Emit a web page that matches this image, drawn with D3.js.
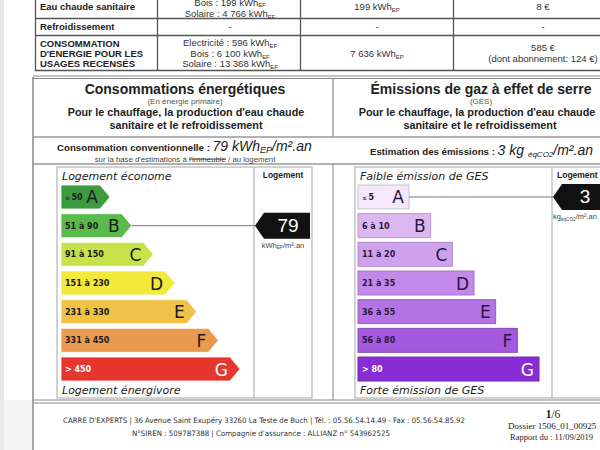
<!DOCTYPE html>
<html><head><meta charset="utf-8">
<script src="https://cdn.jsdelivr.net/npm/d3@7"></script>
<style>body{margin:0;background:#fff}svg{display:block}</style>
</head><body>
<script>
// ---------- DATA ----------
const classes = ["A","B","C","D","E","F","G"];
const energyRanges = ["≤|50","51 à 90","91 à 150","151 à 230","231 à 330","331 à 450","> 450"];
const energyBounds = [51,91,151,231,331,451];
const energyColors = ["#3e9a3e","#5bba4b","#c8e24b","#f2e93a","#f0c247","#ea9a4e","#e5372d"];
const gesRanges = ["≤|5","6 à 10","11 à 20","21 à 35","36 à 55","56 à 80","> 80"];
const gesBounds = [6,11,21,36,56,81];
const gesColors = ["#f4e8fb","#ddb7f0","#d0a2ee","#c389e9","#b473e4","#a358dd","#8a2cd3"];
const energyValue = 79;
const gesValue = 3;

const tableLabels = [["Eau chaude sanitaire"],["Refroidissement"],["CONSOMMATION","D'ENERGIE POUR LES","USAGES RECENSÉS"]];
const tableFinal = [
  [["Bois : 199 kWh","EF"],["Solaire : 4 766 kWh","EF"]],
  [["-"]],
  [["Electricité : 596 kWh","EF"],["Bois : 6 100 kWh","EF"],["Solaire : 13 368 kWh","EF"]]
];
const tablePrimary = [[["199 kWh","EP"]],[["-"]],[["7 636 kWh","EP"]]];
const tableCost = [[["8 €"]],[["-"]],[["585 €"],["(dont abonnement: 124 €)"]]];

const footerLines = ["CARRE D'EXPERTS | 36 Avenue Saint Exupéry 33260 La Teste de Buch | Tél. : 05.56.54.14.49 - Fax : 05.56.54.85.92",
                     "N°SIREN : 509787388 | Compagnie d'assurance : ALLIANZ n° 543962525"];

// ---------- DRAW ----------
const W = 600, H = 450;
const svg = d3.select("body").append("svg").attr("width", W).attr("height", H);
svg.append("rect").attr("width", W).attr("height", H).attr("fill", "#fff");

const SANS = "Liberation Sans, Arial, sans-serif";
const VERD = "DejaVu Sans, Verdana, sans-serif";

function line(x1,y1,x2,y2,c,w){ svg.append("line").attr("x1",x1).attr("y1",y1).attr("x2",x2).attr("y2",y2).attr("stroke",c).attr("stroke-width",w); }

function richText(parent, x, y, parts, o){
  const t = parent.append("text").attr("x",x).attr("y",y)
    .attr("font-family", o.family || SANS).attr("font-size", o.size)
    .attr("font-weight", o.weight || "normal").attr("font-style", o.style || "normal")
    .attr("fill", o.fill || "#222").attr("text-anchor", o.anchor || "start");
  parts.forEach((p,i)=>{
    if(i===0){ t.append("tspan").text(p); }
    else { t.append("tspan").attr("font-size", o.size*0.62).attr("dy", o.subDy!=null ? o.subDy : o.size*0.22).text(p); }
  });
  return t;
}

// page left margin
svg.append("rect").attr("x",0).attr("y",0).attr("width",4).attr("height",H).attr("fill","#e9e9e9");
svg.append("rect").attr("x",4).attr("y",400).attr("width",28).attr("height",50).attr("fill","#f3f3f3");

// ---- top table ----
const rowCenters = [[6],[26],[43,53,63]];
const colX = [35, 157, 300, 453];
[18.5, 35.5, 70.5].forEach(y=>line(35,y,W,y,"#555",1.3));
colX.forEach(x=>line(x+0.5,0,x+0.5,70.5,"#555",1.3));
const rowMid = [6, 26.5, 53];
tableLabels.forEach((ls,r)=>{
  ls.forEach((l,i)=>{
    svg.append("text").attr("x",40).attr("y",(ls.length>1?rowCenters[2][i]:rowMid[r])+3.5)
      .attr("font-family",SANS).attr("font-size",9.5).attr("font-weight","bold").attr("fill","#222").text(l);
  });
});
function cellLines(data, cx, r, gap){
  const n = data.length;
  data.forEach((p,i)=>{
    const first = (r===0 && n===2);
    const cy = first ? [2,13.5][i] : rowMid[r] + (i-(n-1)/2)*gap;
    richText(svg, cx, cy+3.5, p, {size:9.5, anchor:"middle", fill:"#333", subDy: first && i===0 ? 1 : null});
  });
}
tableFinal.forEach((d,r)=>cellLines(d, 230, r, 10.7));
tablePrimary.forEach((d,r)=>cellLines(d, 377, r, 11));
tableCost.forEach((d,r)=>cellLines(d, 543, r, 11));

// ---- frames ----
line(33,76,W,76,"#888",1); line(33,78.5,W,78.5,"#888",1);
line(33,77,33,H,"#777",1.3);
line(333,78,333,137,"#888",1.2);
line(33,137,W,137,"#999",1.3);
line(33,164,W,164,"#999",1.3);
line(333,164,333,400,"#999",1.2);
line(33,400,W,400,"#888",1); line(33,403,W,403,"#888",1);

// ---- headers ----
function ctext(x,y,txt,size,weight,fill,fam){
  return svg.append("text").attr("x",x).attr("y",y).attr("text-anchor","middle")
    .attr("font-family",fam||SANS).attr("font-size",size).attr("font-weight",weight||"normal").attr("fill",fill||"#222").text(txt);
}
ctext(185,94,"Consommations énergétiques",14,"bold","#222");
ctext(185,104,"(En énergie primaire)",8,"normal","#555");
ctext(186,115.5,"Pour le chauffage, la production d'eau chaude",10.8,"bold","#222");
ctext(186,129,"sanitaire et le refroidissement",10.8,"bold","#222");
ctext(481,94,"Émissions de gaz à effet de serre",14,"bold","#222");
ctext(481,104,"(GES)",8,"normal","#555");
ctext(477,115.5,"Pour le chauffage, la production d'eau chaude",10.8,"bold","#222");
ctext(480,129,"sanitaire et le refroidissement",10.8,"bold","#222");

// conventional consumption line
{
  const t = svg.append("text").attr("x",57).attr("y",151).attr("font-family",SANS).attr("fill","#222");
  t.append("tspan").attr("font-size",9.7).attr("font-weight","bold").text("Consommation conventionnelle : ");
  t.append("tspan").attr("font-size",14).attr("font-style","italic").text(energyValue+" kWh");
  t.append("tspan").attr("font-size",9).attr("font-style","italic").attr("dy",1.5).text("EP");
  t.append("tspan").attr("font-size",14).attr("font-style","italic").attr("dy",-1.5).text("/m².an");
  const s = svg.append("text").attr("x",185).attr("y",161.5).attr("text-anchor","middle").attr("font-family",SANS).attr("font-size",7.8).attr("fill","#444");
  s.append("tspan").text("sur la base d'estimations à ");
  s.append("tspan").style("text-decoration","line-through").text("l'immeuble");
  s.append("tspan").text(" / au logement");
}
{
  const t = svg.append("text").attr("x",370).attr("y",155).attr("font-family",SANS).attr("fill","#222");
  t.append("tspan").attr("font-size",9.7).attr("font-weight","bold").text("Estimation des émissions : ");
  t.append("tspan").attr("font-size",14).attr("font-style","italic").text(gesValue+" kg ");
  t.append("tspan").attr("font-size",8).attr("font-style","italic").attr("dy",2).text("éqCO2");
  t.append("tspan").attr("font-size",14).attr("font-style","italic").attr("dy",-2).text("/m².an");
}

// ---- scales ----
const y = d3.scaleBand().domain(classes).range([185, 381]).paddingInner(0.164);
const len = d3.scaleLinear().domain([0, 6]).range([49, 179]);
const eClass = d3.scaleThreshold().domain(energyBounds).range(classes);
const gClass = d3.scaleThreshold().domain(gesBounds).range(classes);
const bh = y.bandwidth();

// chart frames
function frame(x1,x2,div){
  svg.append("rect").attr("x",x1).attr("y",167).attr("width",x2-x1).attr("height",231)
    .attr("fill","none").attr("stroke","#bbb").attr("stroke-width",1.3);
  line(div,167,div,398,"#bbb",1.3);
}
frame(57,312,254);
frame(355,640,552);

function italicLabel(x,yy,txt){
  svg.append("text").attr("x",x).attr("y",yy).attr("font-family",VERD).attr("font-style","italic")
    .attr("font-size",11).attr("fill","#222").text(txt);
}
italicLabel(62,180,"Logement économe");
italicLabel(62,394,"Logement énergivore");
italicLabel(360,180,"Faible émission de GES");
italicLabel(360,394,"Forte émission de GES");

svg.append("text").attr("x",283).attr("y",178).attr("text-anchor","middle").attr("font-family",SANS).attr("font-size",8.5).attr("font-weight","bold").attr("fill","#222").text("Logement");
svg.append("text").attr("x",557).attr("y",178).attr("font-family",SANS).attr("font-size",8.5).attr("font-weight","bold").attr("fill","#222").text("Logement");

function rangeLabel(x, yy, txt, fill){
  const t = svg.append("text").attr("x",x).attr("y",yy).attr("font-family",VERD).attr("font-weight","bold")
    .attr("font-size",8).attr("fill",fill);
  const parts = txt.split("|");
  if(parts.length>1){
    t.append("tspan").attr("font-size",6).attr("font-weight","normal").text(parts[0]);
    t.append("tspan").attr("dx",1.5).text(parts[1]);
  } else t.text(txt);
}

// energy arrows
const eX0 = 61, tip = 10;
classes.forEach((c,i)=>{
  const x0 = eX0, y0 = y(c), w = len(i);
  const p = d3.path();
  p.moveTo(x0,y0); p.lineTo(x0+w-tip,y0); p.lineTo(x0+w,y0+bh/2); p.lineTo(x0+w-tip,y0+bh); p.lineTo(x0,y0+bh); p.closePath();
  svg.append("path").attr("d",p.toString()).attr("fill",energyColors[i]).attr("stroke","#fff").attr("stroke-width",0.8);
  const tc = c==="G" ? "#fff" : "#1a1a1a";
  rangeLabel(x0+4, y0+bh/2+3, energyRanges[i], tc);
  svg.append("text").attr("x",x0+w-tip-2).attr("y",y0+bh/2+6.5).attr("text-anchor","end").attr("font-family",VERD)
    .attr("font-size",17).attr("fill",tc).text(c);
});

// GES bars
const gX0 = 358;
classes.forEach((c,i)=>{
  const y0 = y(c), w = len(i)+2;
  svg.append("rect").attr("x",gX0).attr("y",y0).attr("width",w).attr("height",bh)
    .attr("fill",gesColors[i]).attr("stroke",d3.color(gesColors[i]).darker(0.5)).attr("stroke-width",1);
  const tc = c==="G" ? "#fff" : "#2a1840";
  rangeLabel(gX0+4, y0+bh/2+3, gesRanges[i], tc);
  svg.append("text").attr("x",gX0+w-5).attr("y",y0+bh/2+6.5).attr("text-anchor","end").attr("font-family",VERD)
    .attr("font-size",17).attr("fill",tc).text(c);
});

// indicators
function indicator(cls, barEnd, tipX, rightX){
  const cy = y(cls) + bh/2, h2 = bh/2 + 1;
  line(barEnd, cy, tipX, cy, "#777", 1);
  const p = d3.path();
  p.moveTo(tipX, cy); p.lineTo(tipX+9, cy-h2); p.lineTo(rightX, cy-h2); p.lineTo(rightX, cy+h2); p.lineTo(tipX+9, cy+h2); p.closePath();
  svg.append("path").attr("d",p.toString()).attr("fill","#111");
  return cy;
}
const ec = eClass(energyValue), ei = classes.indexOf(ec);
const ecy = indicator(ec, eX0+len(ei), 255, 310);
svg.append("text").attr("x",288).attr("y",ecy+6.5).attr("text-anchor","middle").attr("font-family",SANS)
  .attr("font-size",19).attr("fill","#fff").text(energyValue);
richText(svg, 283, ecy+22, ["kWh","EP"], {size:7.5, anchor:"middle", fill:"#444"}).append("tspan").attr("dy",-1.6).text("/m².an");

const gc = gClass(gesValue), gi = classes.indexOf(gc);
const gcy = indicator(gc, gX0+len(gi)+2, 553, 640);
svg.append("text").attr("x",585).attr("y",gcy+6.5).attr("text-anchor","middle").attr("font-family",SANS)
  .attr("font-size",19).attr("fill","#fff").text(gesValue);
richText(svg, 553, gcy+22, ["kg","éqCO2"], {size:7.5, fill:"#444"}).append("tspan").attr("dy",-1.6).text("/m².an");

// footer
svg.append("text").attr("x",264).attr("y",423).attr("text-anchor","middle").attr("font-family","Liberation Sans Narrow, DejaVu Sans Condensed, sans-serif")
  .attr("font-size",7.5).attr("fill","#333").attr("textLength",402).attr("lengthAdjust","spacingAndGlyphs").text(footerLines[0]);
svg.append("text").attr("x",261).attr("y",436).attr("text-anchor","middle").attr("font-family","Liberation Sans Narrow, DejaVu Sans Condensed, sans-serif")
  .attr("font-size",7.5).attr("fill","#333").attr("textLength",258).attr("lengthAdjust","spacingAndGlyphs").text(footerLines[1]);
{
  const t = svg.append("text").attr("x",553).attr("y",418).attr("text-anchor","middle").attr("font-family","Liberation Serif, serif").attr("font-size",11.5).attr("fill","#222");
  t.append("tspan").attr("font-weight","bold").text("1");
  t.append("tspan").text("/6");
  svg.append("text").attr("x",508).attr("y",429).attr("font-family","Liberation Serif, serif").attr("font-size",9).attr("fill","#222").text("Dossier 1506_01_00925");
  svg.append("text").attr("x",510).attr("y",440).attr("font-family","Liberation Serif, serif").attr("font-size",8.5).attr("fill","#222").text("Rapport du : 11/09/2019");
}
</script>
</body></html>
